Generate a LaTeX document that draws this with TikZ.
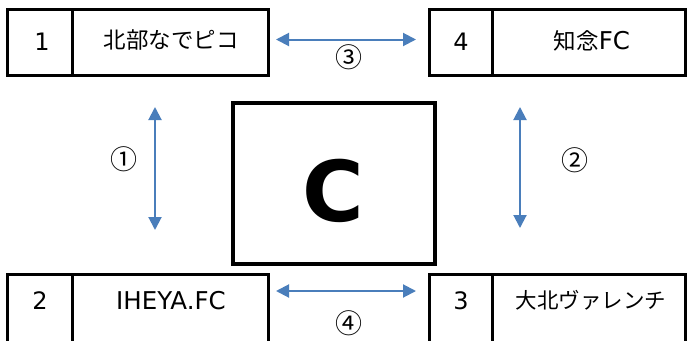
\documentclass[tikz,border=0pt]{standalone}
\usepackage{fontspec}
\setmainfont{DejaVu Sans}
\newfontfamily\jp{Noto Sans CJK JP}
\usetikzlibrary{arrows.meta}
\definecolor{arrowblue}{HTML}{4A7EBB}
\begin{document}
\begin{tikzpicture}[x=1pt,y=-1pt,
  cell/.style={draw, line width=3pt, inner sep=0pt, minimum height=66pt},
  bigcell/.style={draw, line width=3pt, inner sep=0pt, minimum height=68pt},
  numtxt/.style={inner sep=0pt, font=\fontsize{24}{24}\selectfont},
  nametxt/.style={inner sep=0pt, font=\fontsize{24.5}{24.5}\selectfont},
  circ/.style={inner sep=0pt, font=\jp\fontsize{27}{27}\selectfont},
  arr/.style={arrowblue, line width=2pt,
    {Triangle[length=13pt,width=13pt]}-{Triangle[length=13pt,width=13pt]}}]
\useasboundingbox (0,0) rectangle (687,340);
% top-left box
\node[cell, minimum width=65.2pt] (c1) at (40.1,42) {};
\node[cell, minimum width=195.3pt] (d1) at (170.35,42) {};
\node[numtxt] (l1) at (42,41.5) {1};
\node[nametxt] (m1) at (171,40.5) {\jp\fontsize{22.5}{22.5}\selectfont 北部なでピコ};
% top-right box
\node[cell, minimum width=63.7pt] (c4) at (460.85,42) {};
\node[cell, minimum width=192.3pt] (d4) at (588.85,42) {};
\node[numtxt] (l4) at (461,41.5) {4};
\node[nametxt] (m4) at (592,40.5) {{\jp\fontsize{22.5}{22.5}\selectfont 知念}FC};
% bottom-left box
\node[bigcell, minimum width=65.2pt] (c2) at (40.1,308) {};
\node[bigcell, minimum width=195.3pt] (d2) at (170.35,308) {};
\node[numtxt] (l2) at (40,301) {2};
\node[nametxt] (m2) at (171,301) {IHEYA.FC};
% bottom-right box
\node[bigcell, minimum width=63.7pt] (c3) at (460.85,308) {};
\node[bigcell, minimum width=192.3pt] (d3) at (588.85,308) {};
\node[numtxt] (l3) at (461,301) {3};
\node[nametxt] (m3) at (591,300) {\jp\fontsize{21.5}{21.5}\selectfont 大北ヴァレンチ};
% centre box
\node[draw, line width=4pt, minimum width=202pt, minimum height=161pt, inner sep=0pt] (cb) at (334,183.5) {};
\node[inner sep=0pt, font=\fontsize{84}{84}\selectfont\bfseries] (ct) at (333,190.5) {C};
% arrows
\coordinate (a3l) at (276,39.5); \coordinate (a3r) at (416,39.5);
\coordinate (a4l) at (276,291); \coordinate (a4r) at (416,291);
\coordinate (a1t) at (155,107); \coordinate (a1b) at (155,230);
\coordinate (a2t) at (520,107); \coordinate (a2b) at (520,228);
\draw[arr] (a3l) -- (a3r);
\draw[arr] (a4l) -- (a4r);
\draw[arr] (a1t) -- (a1b);
\draw[arr] (a2t) -- (a2b);
\node[circ] (k3) at (348.5,57) {③};
\node[circ] (k4) at (349,323) {④};
\node[circ] (k1) at (124,159.5) {①};
\node[circ] (k2) at (575,160) {②};
\end{tikzpicture}
\end{document}
